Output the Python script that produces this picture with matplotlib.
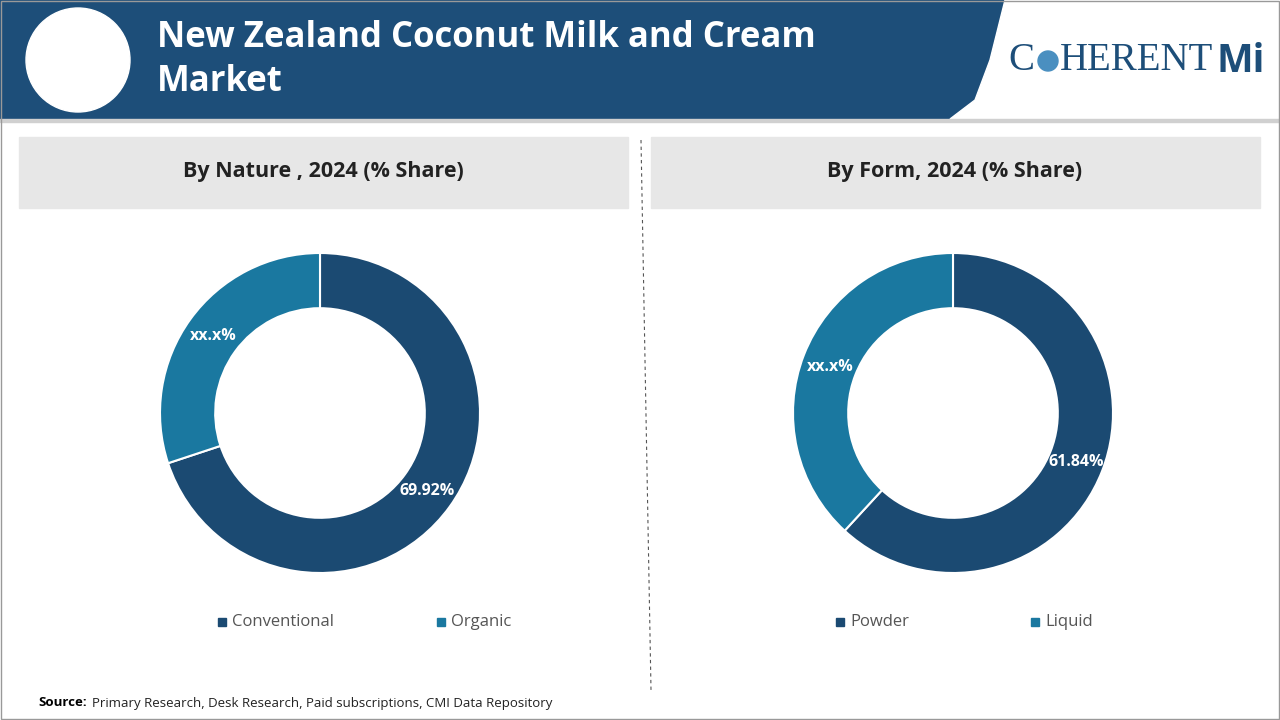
import matplotlib
matplotlib.use("Agg")
import matplotlib.pyplot as plt
from matplotlib.patches import Rectangle, Polygon, Circle

title = "New Zealand Coconut Milk and Cream\nMarket"
panel_titles = ["By Nature , 2024 (% Share)", "By Form, 2024 (% Share)"]
cats1 = ["Conventional", "Organic"]
vals1 = [69.92, 30.08]
labels1 = ["69.92%", "xx.x%"]
cats2 = ["Powder", "Liquid"]
vals2 = [61.84, 38.16]
labels2 = ["61.84%", "xx.x%"]
colors = ["#1b4a72", "#1a78a0"]
source = "Primary Research, Desk Research, Paid subscriptions, CMI Data Repository"

plt.rcParams["font.family"] = "Open Sans"
fig = plt.figure(figsize=(12.8, 7.2), dpi=100)
bg = fig.add_axes([0, 0, 1, 1])
bg.set_xlim(0, 1280); bg.set_ylim(720, 0); bg.axis("off")

def ftext(x, y, s, **kw):
    fig.text(x / 1280, 1 - y / 720, s, **kw)

# header
bg.add_patch(Rectangle((0, 0), 1280, 119, color="#1d4e79"))
bg.add_patch(Polygon([(1005, 0), (1280, 0), (1280, 119), (950, 119), (975, 100), (990, 60)], closed=True, color="white"))
bg.add_patch(Rectangle((0, 119), 1280, 3, color="#d0d0d0"))
bg.add_patch(Circle((78, 60), 52, color="white"))
bg.text(157, 60, title, color="white", fontsize=25, fontweight="bold", va="center", ha="left",
        linespacing=1.3)
bg.text(1008, 61, "C", color="#1d4e79", fontsize=28, family="Liberation Serif", va="center")
bg.add_patch(Circle((1048, 61), 10, color="#4a8fc0"))
bg.text(1060, 61, "HERENT", color="#1d4e79", fontsize=28, family="Liberation Serif", va="center")
bg.text(1216, 61, "Mi", color="#1d4e79", fontsize=28, fontweight="bold", va="center")

# panels
for x0, t in zip([19, 651], panel_titles):
    bg.add_patch(Rectangle((x0, 137), 609, 71, color="#e7e7e7"))
    bg.text(x0 + 304, 172, t, ha="center", va="center", fontsize=15.5, fontweight="bold", color="#222222")
bg.plot([641, 651], [140, 690], ls=(0, (3, 3)), color="#555555", lw=0.8)
bg.add_patch(Rectangle((1, 1), 1278, 718, fill=False, ec="#999999", lw=1))
bg.text(38, 703, "Source:", fontsize=9.5, fontweight="bold", va="center")
bg.text(92, 703, source, fontsize=9.5, va="center", color="#222222")

def donut(cx, vals, labs, cats, lpos, legx):
    ax = fig.add_axes([(cx - 160) / 1280, (720 - 573) / 720, 320 / 1280, 320 / 720])
    ax.pie(vals, colors=colors, startangle=90, counterclock=False, radius=1,
           wedgeprops=dict(width=0.345, edgecolor="white", linewidth=1.5))
    ax.set_xlim(-1, 1); ax.set_ylim(-1, 1); ax.set_aspect("auto")
    for (px, py), l in zip(lpos, labs):
        ftext(px, py, l, color="white", fontsize=11.5, fontweight="bold", ha="center", va="center")
    for x, c, col in zip(legx, cats, colors):
        bg.add_patch(Rectangle((x, 618), 8, 8, color=col))
        bg.text(x + 14, 622, c, fontsize=12, color="#555555", va="center")

donut(320, vals1, labels1, cats1, [(427, 491), (213, 336)], [218, 437])
donut(953, vals2, labels2, cats2, [(1076, 462), (830, 367)], [836, 1031])

fig.savefig("out.png", dpi=100)
